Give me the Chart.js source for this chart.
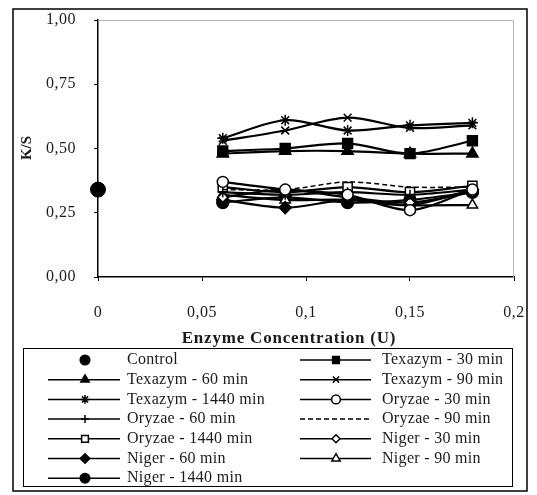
<!DOCTYPE html>
<html>
<head>
<meta charset="utf-8">
<script src="https://cdn.jsdelivr.net/npm/chart.js@4/dist/chart.umd.min.js"></script>
<style>
    html, body { margin: 0; padding: 0; background: #fff; }
    canvas { display: block; }
</style>
</head>
<body>
<canvas id="chart" width="537" height="495"></canvas>
<script>
// Enzyme concentrations (U) and K/S values
const concentrations = [0.06, 0.09, 0.12, 0.15, 0.18];
const controlValue = [0.34];

const texazym30 = [0.49, 0.50, 0.52, 0.48, 0.53];
const texazym60 = [0.48, 0.49, 0.49, 0.48, 0.48];
const texazym90 = [0.53, 0.57, 0.62, 0.58, 0.59];
const texazym1440 = [0.54, 0.61, 0.57, 0.59, 0.60];
const oryzae30 = [0.37, 0.34, 0.32, 0.26, 0.34];
const oryzae60 = [0.33, 0.32, 0.33, 0.32, 0.34];
const oryzae90 = [0.34, 0.34, 0.37, 0.35, 0.35];
const oryzae1440 = [0.35, 0.33, 0.35, 0.33, 0.355];
const niger30 = [0.31, 0.34, 0.31, 0.29, 0.33];
const niger60 = [0.30, 0.27, 0.30, 0.28, 0.34];
const niger90 = [0.32, 0.30, 0.30, 0.28, 0.28];
const niger1440 = [0.29, 0.31, 0.29, 0.30, 0.33];

const yTicks = [0, 0.25, 0.5, 0.75, 1];
const xTicks = [0, 0.05, 0.1, 0.15, 0.2];

const FONT = "'Liberation Serif', 'DejaVu Serif', serif";
const INK = "#1a1a1a";

function series(label, values, style) {
    return Object.assign({
        label: label,
        data: concentrations.map((x, i) => ({ x: x, y: values[i] })),
        showLine: true,
        borderColor: "#000",
        backgroundColor: "#000",
        borderWidth: 2.2,
        pointBorderColor: "#000",
        pointBorderWidth: 1.5,
        pointRadius: 6,
        tension: 0.3,
        clip: false
    }, style);
}

const datasets = [
    {
        label: "Control",
        data: [{ x: 0, y: controlValue[0] }],
        showLine: false,
        pointStyle: "circle",
        pointRadius: 7.5,
        backgroundColor: "#000",
        borderColor: "#000",
        clip: false
    },
    series("Texazym - 30 min", texazym30, { pointStyle: "rect", pointRadius: 7 }),
    series("Texazym - 60 min", texazym60, { pointStyle: "triangle", pointRadius: 6.5 }),
    series("Texazym - 90 min", texazym90, { pointStyle: "crossRot", pointRadius: 5.5 }),
    series("Texazym - 1440 min", texazym1440, { pointStyle: "star", pointRadius: 5.5 }),
    series("Oryzae - 30 min", oryzae30, { pointStyle: "circle", pointRadius: 5.5, backgroundColor: "#fff" }),
    series("Oryzae - 60 min", oryzae60, { pointStyle: "cross", pointRadius: 5 }),
    series("Oryzae - 90 min", oryzae90, { pointStyle: false, pointRadius: 0, borderDash: [5, 3], borderWidth: 1.5 }),
    series("Oryzae - 1440 min", oryzae1440, { pointStyle: "rect", pointRadius: 6.5, backgroundColor: "#fff" }),
    series("Niger - 30 min", niger30, { pointStyle: "rectRot", pointRadius: 5, backgroundColor: "#fff" }),
    series("Niger - 60 min", niger60, { pointStyle: "rectRot", pointRadius: 6 }),
    series("Niger - 90 min", niger90, { pointStyle: "triangle", pointRadius: 6, backgroundColor: "#fff" }),
    series("Niger - 1440 min", niger1440, { pointStyle: "circle", pointRadius: 6 })
];

function commaNumber(v, digits) {
    if (digits !== undefined) return v.toFixed(digits).replace(".", ",");
    return String(Number(v.toFixed(3))).replace(".", ",");
}

// Frame, plot border, titles and the boxed legend
const decorations = {
    id: "decorations",
    beforeDraw(chart) {
        // the original text is set loosely, widen tick labels a little
        chart.ctx.letterSpacing = "0.5px";
    },
    beforeDatasetsDraw(chart) {
        const ctx = chart.ctx;
        const a = chart.chartArea;
        ctx.letterSpacing = "0px";
        ctx.save();
        ctx.strokeStyle = "#b5b5b5";
        ctx.lineWidth = 1;
        ctx.beginPath();
        ctx.moveTo(a.left, a.top + 0.5);
        ctx.lineTo(a.right - 0.5, a.top + 0.5);
        ctx.lineTo(a.right - 0.5, a.bottom);
        ctx.stroke();
        ctx.restore();
    },
    afterDraw(chart) {
        const ctx = chart.ctx;
        ctx.save();

        // outer frame
        ctx.strokeStyle = "#000";
        ctx.lineWidth = 1.5;
        ctx.strokeRect(13, 9, 514, 482);

        // axis titles
        ctx.fillStyle = INK;
        ctx.font = "bold 15px " + FONT;
        ctx.textAlign = "center";
        ctx.textBaseline = "middle";
        ctx.save();
        ctx.translate(27, 148);
        ctx.rotate(-Math.PI / 2);
        ctx.fillText("K/S", 0, 0);
        ctx.restore();
        ctx.font = "bold 17px " + FONT;
        ctx.letterSpacing = "0.8px";
        ctx.fillText("Enzyme Concentration (U)", 289, 339);

        // legend box
        ctx.lineWidth = 1;
        ctx.strokeRect(23.5, 348.5, 489, 138);

        const cols = [
            { lineFrom: 48, lineTo: 120, mark: 85, text: 127 },
            { lineFrom: 300, lineTo: 371, mark: 336, text: 382 }
        ];
        ctx.font = "16px " + FONT;
        ctx.letterSpacing = "0.3px";
        ctx.textAlign = "left";
        chart.data.datasets.forEach((ds, i) => {
            const c = cols[i % 2];
            const y = 360 + Math.floor(i / 2) * 19.7;
            if (ds.showLine) {
                ctx.save();
                ctx.strokeStyle = "#000";
                ctx.lineWidth = 1.5;
                ctx.setLineDash(ds.borderDash || []);
                ctx.beginPath();
                ctx.moveTo(c.lineFrom, y);
                ctx.lineTo(c.lineTo, y);
                ctx.stroke();
                ctx.restore();
            }
            if (ds.pointStyle) {
                ctx.fillStyle = ds.backgroundColor;
                ctx.strokeStyle = "#000";
                ctx.lineWidth = 1.5;
                Chart.helpers.drawPoint(ctx, {
                    pointStyle: ds.pointStyle,
                    radius: Math.min(ds.pointRadius, 6) * 0.8,
                    borderWidth: 1.5,
                    rotation: 0
                }, c.mark, y);
            }
            ctx.fillStyle = INK;
            ctx.fillText(ds.label, c.text, y);
        });

        ctx.restore();
        ctx.letterSpacing = "0px";
    }
};

new Chart(document.getElementById("chart"), {
    type: "scatter",
    data: { datasets: datasets },
    plugins: [decorations],
    options: {
        responsive: false,
        animation: false,
        devicePixelRatio: 1,
        layout: { autoPadding: false, padding: { left: 14, top: 20, right: 23, bottom: 0 } },
        plugins: {
            legend: { display: false },
            tooltip: { enabled: false }
        },
        scales: {
            x: {
                type: "linear",
                min: 0,
                max: 0.2,
                afterBuildTicks: s => { s.ticks = xTicks.map(v => ({ value: v })); },
                afterFit: s => { s.height = 218; s.paddingLeft = 0; s.paddingRight = 0; },
                border: { display: true, color: "#000", width: 1.5 },
                grid: { display: true, drawOnChartArea: false, drawTicks: true, tickLength: 4, color: "#000" },
                ticks: {
                    padding: 22,
                    color: INK,
                    font: { family: FONT, size: 16 },
                    callback: v => commaNumber(v)
                }
            },
            y: {
                min: 0,
                max: 1,
                afterBuildTicks: s => { s.ticks = yTicks.map(v => ({ value: v })); },
                afterFit: s => { s.width = 84; s.paddingTop = 0; s.paddingBottom = 0; },
                border: { display: true, color: "#000", width: 1.5 },
                grid: { display: true, drawOnChartArea: false, drawTicks: true, tickLength: 4, color: "#000" },
                ticks: {
                    padding: 18,
                    color: INK,
                    font: { family: FONT, size: 16 },
                    callback: v => commaNumber(v, 2)
                }
            }
        }
    }
});
</script>
</body>
</html>
